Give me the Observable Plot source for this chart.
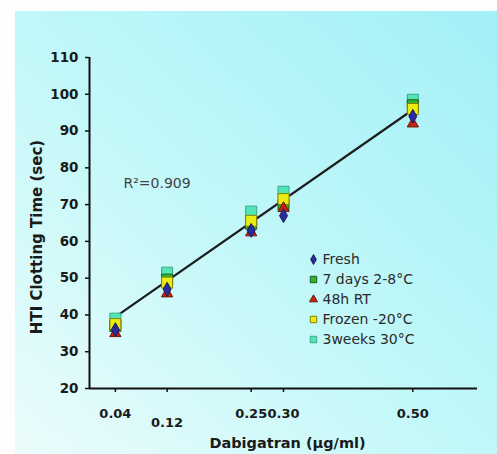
<!DOCTYPE html>
<html>
<head>
<meta charset="utf-8">
<script src="https://cdn.jsdelivr.net/npm/d3@7"></script>
<script src="https://cdn.jsdelivr.net/npm/@observablehq/plot@0.6"></script>
<style>
  html, body { margin: 0; padding: 0; background: #fefefe; }
  #page { position: relative; width: 497px; height: 454px; overflow: hidden; }
  #panel { position: absolute; left: 15px; top: 11px; width: 482px; height: 443px;
    background: linear-gradient(to top right, #ecfcfc 0%, #c4f8f9 45%, #a2f0f7 100%); }
  #chart, #legend { position: absolute; }
  #chart { left: 0; top: 0; }
  #legend { left: 300px; top: 237px; }
  svg { overflow: visible; }
</style>
</head>
<body>
<div id="page"><div id="panel"></div><div id="chart"></div><div id="legend"></div></div>
<script>
// ---- data ----
const doses = [0.04, 0.12, 0.25, 0.30, 0.50];          // Dabigatran (µg/ml)
const seriesNames = ["Fresh", "7 days 2-8°C", "48h RT", "Frozen -20°C", "3weeks 30°C"];
const fresh      = [36.0, 47.0, 63.0, 67.0, 94.0];
const days7      = [37.0, 49.6, 64.8, 70.0, 97.0];
const rt48h      = [35.0, 45.8, 62.4, 69.0, 92.0];
const frozen     = [37.5, 48.8, 65.6, 71.5, 96.0];
const weeks3     = [39.0, 51.5, 68.1, 73.5, 98.5];
const fitX = [0.04, 0.50];            // regression line ends
const fitY = [39.5, 95.8];
const xTicks = [0.04, 0.25, 0.30, 0.50];
const xTicksLow = [0.12];
const yTicks = [20, 30, 40, 50, 60, 70, 80, 90, 100, 110];
const r2Label = "R²=0.909";
const xLabel = "Dabigatran (µg/ml)";
const yLabel = "HTI Clotting Time (sec)";

// ---- styles ----
const symbols = ["diamond", "square", "triangle", "square", "square"];
const fills   = ["#2b2b9c", "#2fb52f", "#c8230f", "#ecec10", "#52e6b6"];
const strokes = ["#1a1a60", "#1f5a1f", "#6a1a0a", "#80800a", "#3aa888"];
const radii   = [4.2, 6.2, 4.2, 6.2, 6.2];

const allSeries = [fresh, days7, rt48h, frozen, weeks3];
const seriesPoints = allSeries.map((vals, s) => vals.map((v, i) => ({dose: doses[i], time: v, series: seriesNames[s]})));
const fit = fitX.map((x, i) => ({x, y: fitY[i]}));

const W = 497, H = 454, ML = 89, MR = 20, MT = 57, MB = 66;
const frameW = W - ML - MR, frameH = H - MT - MB;
const font = "DejaVu Sans, Verdana, sans-serif";
const ink = "#1a1a1a";

// draw order: big squares first, small markers on top
const drawOrder = [4, 1, 3, 2, 0];

const chart = Plot.plot({
  width: W, height: H,
  marginLeft: ML, marginRight: MR, marginTop: MT, marginBottom: MB,
  style: {background: "transparent", fontFamily: font, color: ink},
  x: {domain: [0, 0.6], axis: null},
  y: {domain: [20, 110], axis: null},
  color: {domain: seriesNames, range: fills},
  symbol: {domain: seriesNames, range: symbols},
  marks: [
    // axes
    Plot.ruleX([0], {stroke: "#111", strokeWidth: 2}),
    Plot.ruleY([20], {stroke: "#111", strokeWidth: 2}),
    Plot.tickY(yTicks, {y: d => d, insetRight: frameW - 4, dx: -4, stroke: "#111", strokeWidth: 1.5}),
    Plot.tickX(xTicks.concat(xTicksLow), {x: d => d, insetTop: frameH - 4, dy: 4, stroke: "#111", strokeWidth: 1.5}),
    Plot.text(yTicks, {y: d => d, frameAnchor: "left", dx: -11, textAnchor: "end", lineAnchor: "middle",
      text: d => String(d), fontSize: 13.5, fontWeight: "bold", fill: ink}),
    Plot.text(xTicks, {x: d => d, frameAnchor: "bottom", dy: 25, lineAnchor: "middle", textAnchor: "middle",
      text: d => d3.format(".2f")(d), fontSize: 13, fontWeight: "bold", fill: ink}),
    Plot.text(xTicksLow, {x: d => d, frameAnchor: "bottom", dy: 34, lineAnchor: "middle", textAnchor: "middle",
      text: d => d3.format(".2f")(d), fontSize: 13, fontWeight: "bold", fill: ink}),
    Plot.text([xLabel], {frameAnchor: "bottom", dy: 55, dx: 4, lineAnchor: "middle", textAnchor: "middle",
      text: d => d, fontSize: 14.5, fontWeight: "bold", fill: ink}),
    Plot.text([yLabel], {frameAnchor: "left", dx: -52, dy: 14, rotate: -90, lineAnchor: "middle", textAnchor: "middle",
      text: d => d, fontSize: 15, fontWeight: "bold", fill: ink}),
    Plot.text([r2Label], {frameAnchor: "top-left", dx: 34, dy: 126, lineAnchor: "middle", textAnchor: "start",
      text: d => d, fontSize: 14, fill: "#444"}),
    // regression line
    Plot.line(fit, {x: "x", y: "y", stroke: "#1c1c1c", strokeWidth: 2.2}),
    // points
    ...drawOrder.map(s => Plot.dot(seriesPoints[s], {x: "dose", y: "time", symbol: "series", fill: "series",
      r: radii[s], stroke: strokes[s], strokeWidth: 1}))
  ]
});
document.getElementById("chart").appendChild(chart);

const legend = Plot.plot({
  width: 170, height: 124,
  marginLeft: 13, marginRight: 0, marginTop: 10, marginBottom: 10,
  style: {background: "transparent", fontFamily: font},
  x: {axis: null},
  y: {domain: seriesNames, axis: null},
  color: {domain: seriesNames, range: fills},
  symbol: {domain: seriesNames, range: symbols},
  marks: [
    Plot.dot(seriesNames, {y: d => d, frameAnchor: "left", symbol: d => d, fill: d => d,
      r: (d, i) => radii[i] * 0.75, stroke: d => strokes[seriesNames.indexOf(d)], strokeWidth: 1}),
    Plot.text(seriesNames, {y: d => d, frameAnchor: "left", dx: 9, textAnchor: "start", text: d => d,
      fontSize: 14, fill: "#2a2a2a"})
  ]
});
document.getElementById("legend").appendChild(legend);
</script>
</body>
</html>
